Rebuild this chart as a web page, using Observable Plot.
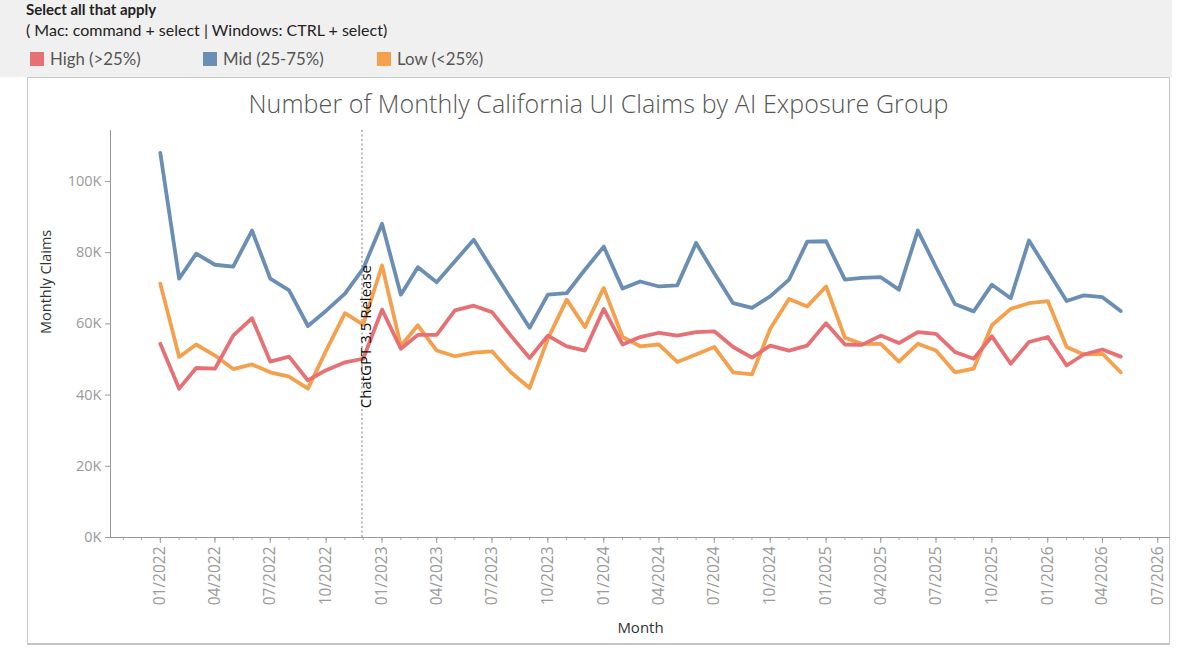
<!DOCTYPE html>
<html>
<head>
<meta charset="utf-8">
<script src="https://cdn.jsdelivr.net/npm/d3@7"></script>
<script src="https://cdn.jsdelivr.net/npm/@observablehq/plot@0.6"></script>
<style>
  body { margin: 0; background: #fff; width: 1200px; height: 661px; position: relative; overflow: hidden; font-family: "Open Sans", sans-serif; }
  #header { position: absolute; left: 0; top: 0; width: 1172px; height: 77px; background: #f0f0f0; font-family: Lato, sans-serif; }
  #header .l1 { position: absolute; left: 26px; top: 0px; font-size: 15px; font-weight: bold; color: #222; }
  #header .l2 { position: absolute; left: 26px; top: 20px; font-size: 16px; color: #222; }
  .leg { position: absolute; top: 48px; font-size: 16.8px; color: #555; }
  .sw { position: absolute; top: 52px; width: 14px; height: 14px; }
  #frame { position: absolute; left: 27px; top: 77px; width: 1143px; height: 568px; box-sizing: border-box; border: 1px solid #c9c9c9; border-bottom: 2px solid #c4c4c4; }
  #title { position: absolute; left: 27px; top: 86px; width: 1143px; text-align: center; font-size: 25px; font-weight: 300; color: #555; letter-spacing: 0.1px; }
  #chart { position: absolute; left: 27px; top: 120px; }
</style>
</head>
<body>
<div id="header">
  <div class="l1">Select all that apply</div>
  <div class="l2">( Mac: command + select | Windows: CTRL + select)</div>
</div>
<div id="legend"></div>
<div id="frame"></div>
<div id="title">Number of Monthly California UI Claims by AI Exposure Group</div>
<div id="chart"></div>
<script>
// ---- data (thousands of claims), one value per month from 01/2022 to 05/2026 ----
const groups = ["High (>25%)", "Mid (25-75%)", "Low (<25%)"];
const groupColors = ["#e67073", "#6a8eb4", "#f4a04c"];
const legendX = [30, 203, 377];

const firstMonth = "2022-01";
const lastMonth = "2026-05";

const high = [54.4, 41.8, 47.6, 47.4, 56.7, 61.6, 49.4, 50.8, 44.1, 47.0, 49.2, 50.2,
  64.0, 53.0, 56.9, 56.9, 63.8, 65.1, 63.3, 56.7, 50.4, 56.7, 53.7, 52.5,
  64.2, 54.2, 56.3, 57.5, 56.7, 57.7, 57.9, 53.5, 50.5, 53.9, 52.5, 53.9,
  60.2, 54.2, 54.1, 56.7, 54.6, 57.7, 57.2, 52.1, 50.2, 56.5, 48.8, 54.9,
  56.3, 48.3, 51.4, 52.8, 50.8];
const mid = [108.0, 72.7, 79.7, 76.6, 76.1, 86.2, 72.7, 69.4, 59.4, 63.7, 68.5, 75.5,
  88.1, 68.2, 75.9, 71.7, 77.6, 83.6, 75.4, 67.1, 58.9, 68.2, 68.6, 75.2,
  81.7, 69.9, 71.9, 70.5, 70.8, 82.7, 74.2, 65.8, 64.5, 67.7, 72.4, 83.1,
  83.2, 72.4, 72.9, 73.1, 69.6, 86.2, 75.9, 65.6, 63.5, 71.0, 67.2, 83.4,
  74.9, 66.4, 68.0, 67.5, 63.6];
const low = [71.3, 50.7, 54.2, 51.1, 47.3, 48.6, 46.4, 45.2, 41.8, 52.5, 63.0, 59.8,
  76.4, 53.8, 59.6, 52.5, 50.9, 51.9, 52.3, 46.4, 42.0, 55.8, 66.8, 59.1,
  70.1, 56.3, 53.7, 54.2, 49.3, 51.4, 53.5, 46.4, 45.8, 58.6, 67.0, 64.9,
  70.5, 56.1, 54.4, 54.4, 49.4, 54.4, 52.5, 46.4, 47.4, 59.6, 64.2, 65.8,
  66.4, 53.5, 51.4, 51.6, 46.4];

const yTicks = [0, 20000, 40000, 60000, 80000, 100000];
const xTickLabels = ["01/2022", "04/2022", "07/2022", "10/2022", "01/2023", "04/2023", "07/2023",
  "10/2023", "01/2024", "04/2024", "07/2024", "10/2024", "01/2025", "04/2025", "07/2025",
  "10/2025", "01/2026", "04/2026", "07/2026"];

const releaseDate = "2022-11-29";
const releaseLabel = "ChatGPT 3.5 Release";
const xDomain = ["2021-10-11", "2026-07-22"];
const yMax = 114300;

// ---- build ----
const parseMY = d3.utcParse("%m/%Y");
const months = d3.utcMonth.range(new Date(firstMonth + "-01"), d3.utcMonth.offset(new Date(lastMonth + "-01"), 1));
const series = [high, mid, low];
const rows = [];
series.forEach((vals, g) => vals.forEach((v, i) => rows.push({month: months[i], claims: v * 1000, group: groups[g]})));
const majorTicks = xTickLabels.map(parseMY);
const minorTicks = d3.utcMonth.range(new Date(xDomain[0]), new Date(xDomain[1]));

// legend
const leg = document.getElementById("legend");
groups.forEach((g, i) => {
  const s = document.createElement("div");
  s.className = "sw"; s.style.left = legendX[i] + "px"; s.style.background = groupColors[i];
  leg.appendChild(s);
  const t = document.createElement("div");
  t.className = "leg"; t.style.left = (legendX[i] + 20) + "px"; t.textContent = g;
  t.style.fontFamily = "Lato, sans-serif";
  leg.appendChild(t);
});

const x0 = new Date(xDomain[0]);
const chart = Plot.plot({
  width: 1143,
  height: 520,
  marginLeft: 83,
  marginRight: 0,
  marginTop: 10,
  marginBottom: 103,
  style: {fontFamily: "Open Sans, sans-serif", fontSize: "14px", background: "transparent"},
  x: {type: "utc", domain: xDomain.map(d => new Date(d))},
  y: {domain: [0, yMax]},
  marks: [
    Plot.axisY({ticks: yTicks, tickFormat: d => d / 1000 + "K", tickSize: 5, tickPadding: 4, label: null, color: "#9a9a9a", fontSize: 14.5}),
    Plot.axisX({ticks: minorTicks, tickSize: 3, tickFormat: () => "", label: null, stroke: "#aaa"}),
    Plot.axisX({ticks: majorTicks, tickSize: 6, tickPadding: 3, tickRotate: -90, tickFormat: d3.utcFormat("%m/%Y"), label: null, color: "#9a9a9a", fontSize: 15.5}),
    Plot.ruleY([0], {stroke: "#999"}),
    Plot.ruleX([x0], {y1: 0, y2: yMax, stroke: "#999"}),
    Plot.ruleX([new Date(releaseDate)], {y1: 0, y2: yMax, stroke: "#aaa", strokeWidth: 1.5, strokeDasharray: "2,2.5"}),
    Plot.lineY(rows.filter(d => d.group === groups[2]), {x: "month", y: "claims", stroke: groupColors[2], strokeWidth: 3.8}),
    Plot.lineY(rows.filter(d => d.group === groups[0]), {x: "month", y: "claims", stroke: groupColors[0], strokeWidth: 3.8}),
    Plot.lineY(rows.filter(d => d.group === groups[1]), {x: "month", y: "claims", stroke: groupColors[1], strokeWidth: 3.8}),
    Plot.text([releaseLabel], {x: new Date(releaseDate), y: 36300, rotate: -90, textAnchor: "start", dx: 4, fill: "#111", fontSize: 15}),
    Plot.text(["Monthly Claims"], {frameAnchor: "left", rotate: -90, dx: -64, fill: "#333", fontSize: 14.5}),
    Plot.text(["Month"], {frameAnchor: "bottom", dy: 95, fill: "#333", fontSize: 15})
  ]
});
document.getElementById("chart").appendChild(chart);
</script>
</body>
</html>
